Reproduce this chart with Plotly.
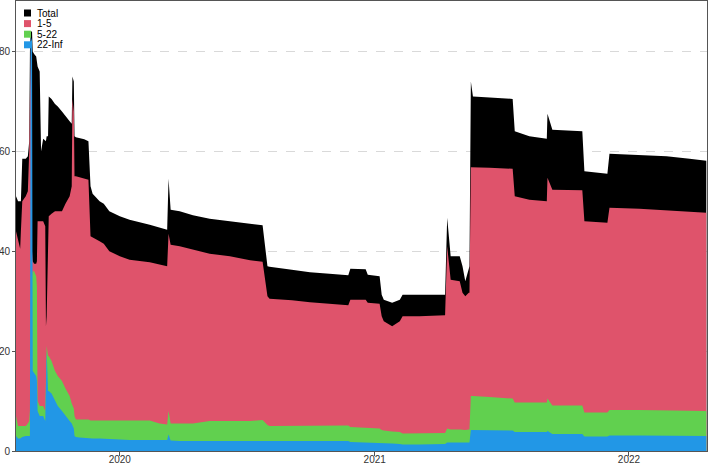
import plotly.graph_objects as go

dates = [
    "2019-08-05", "2019-08-08", "2019-08-11", "2019-08-12", "2019-08-14", "2019-08-19", "2019-08-22", "2019-08-24",
    "2019-08-25", "2019-08-26", "2019-08-28", "2019-08-29", "2019-08-31", "2019-09-03", "2019-09-04", "2019-09-05",
    "2019-09-08", "2019-09-10", "2019-09-13", "2019-09-16", "2019-09-17", "2019-09-18", "2019-09-20", "2019-09-21",
    "2019-09-25", "2019-09-30", "2019-10-04", "2019-10-10", "2019-10-15", "2019-10-21", "2019-10-24", "2019-10-25",
    "2019-10-27", "2019-10-28", "2019-10-30", "2019-11-04", "2019-11-11", "2019-11-17", "2019-11-20", "2019-11-23",
    "2019-12-03", "2019-12-09", "2019-12-17",
    "2020-01-01", "2020-01-15", "2020-02-13", "2020-02-27", "2020-03-09", "2020-03-11", "2020-03-14", "2020-03-27",
    "2020-04-15", "2020-05-09", "2020-06-07", "2020-07-06", "2020-07-24", "2020-07-31", "2020-08-03", "2020-09-04",
    "2020-09-30", "2020-10-28", "2020-11-24", "2020-11-27", "2020-12-19", "2020-12-22",
    "2021-01-08", "2021-01-11", "2021-01-14", "2021-01-26", "2021-02-06", "2021-02-10", "2021-03-06", "2021-04-12",
    "2021-04-15", "2021-04-20", "2021-05-03", "2021-05-07", "2021-05-11", "2021-05-16", "2021-05-17", "2021-05-19",
    "2021-05-22", "2021-06-15", "2021-07-18", "2021-07-21", "2021-08-11", "2021-09-05", "2021-09-06", "2021-09-13",
    "2021-10-26", "2021-10-29", "2021-12-01", "2021-12-04",
    "2022-01-16", "2022-02-24", "2022-03-29", "2022-04-22",
]

total = [
    51, 50, 50, 50, 58.5, 58.5, 59, 62, 80, 84, 84, 80, 79.5, 79, 78, 77,
    76, 60, 62.5, 62, 62, 63, 63, 71, 70.5, 69.5, 69, 68, 67, 66, 65.5, 75,
    74, 63, 62.8, 62.6, 62.4, 62, 53, 51.5, 50, 49.5, 48,
    47, 46.3, 45.3, 44.8, 44.3, 54.5, 48.3, 48, 47.2, 46.5, 46, 45.4, 45.2, 37, 36.9, 36.3,
    35.8, 35.5, 35.2, 36.5, 36.4, 35.3,
    35, 31.3, 30.3, 29.7, 30.3, 31.3, 31.3, 31.3, 46.7, 39, 39, 37, 34, 37, 37, 74,
    71, 70.8, 70.5, 64, 63, 62.5, 67.5, 64.3, 64, 56, 55.5, 59.5,
    59.3, 59, 58.5, 58.1,
]

s1_5 = [
    44, 42, 40.5, 44, 50, 51, 52, 60, 80, 82, 40, 38, 37.5, 37.5, 38, 46,
    46, 46, 46, 45, 25, 27, 45, 47, 47.5, 48, 48, 48, 49.5, 51, 53, 70.5,
    68, 55, 55, 54.8, 54.5, 54.3, 43, 42.8, 42, 41.5, 40,
    39, 38.3, 37.8, 37.3, 37, 43.5, 41.3, 41, 40.3, 39.5, 39, 38.2, 37.9, 31, 30.5, 30.2,
    29.8, 29.5, 29.2, 30.3, 30.3, 29.7,
    29.5, 27, 26, 25, 26, 27, 27, 27.2, 41, 34.3, 34, 31.7, 31, 31.7, 31.7, 56.8,
    56.8, 56.7, 56.5, 51, 50.3, 50, 54.7, 52.3, 52.2, 46, 45.7, 48.7,
    48.5, 48.2, 47.9, 47.7,
]

s5_22 = [
    7, 5, 5, 5, 5, 5, 5.5, 6, 8, 30, 35, 36, 36, 35, 33, 10,
    9, 9, 9, 8, 20, 21, 19, 19, 18, 16, 15, 14, 12.5, 11, 9.5, 9,
    8.5, 7, 6.3, 6.3, 6.3, 6.3, 6.1, 6.1, 6.2, 6.2, 6.2,
    6.2, 6.2, 6.1, 5.5, 5.3, 8, 5.5, 5.5, 5.5, 6, 6, 6, 6.2, 5.2, 5, 5,
    5.1, 5.1, 5.1, 4.8, 4.7, 4.7,
    4.5, 4.2, 4.1, 3.9, 3.8, 3.5, 3.5, 3.6, 4.5, 4.3, 4.3, 4.2, 4.2, 4.3, 4.3, 11,
    11, 10.8, 10.5, 9.7, 9.7, 9.7, 10.5, 9.1, 9.1, 7.7, 7.7, 8.2,
    8.2, 8.1, 8.0, 8.0,
]

s22_inf = [
    3, 2.5, 2.5, 2.6, 2.8, 3, 3, 3, 3, 83, 82, 16, 15.5, 15, 14, 8,
    7, 7, 7, 6, 20, 20, 12, 12, 11.5, 10, 9, 8, 7, 6, 5.5, 5,
    4.5, 3, 2.8, 2.7, 2.6, 2.6, 2.6, 2.5, 2.5, 2.5, 2.4,
    2.3, 2.2, 2.2, 2.2, 2.2, 3.3, 2.1, 2.0, 2.0, 2.0, 2.0, 2.0, 2.0, 2.0, 2.0, 2.0,
    2.0, 2.0, 2.0, 1.8, 1.7, 1.7,
    1.7, 1.7, 1.6, 1.5, 1.4, 1.3, 1.3, 1.4, 1.7, 1.7, 1.7, 1.7, 1.7, 1.7, 1.7, 4.2,
    4.2, 4.1, 4.1, 3.8, 3.8, 3.8, 4.0, 3.4, 3.4, 2.9, 2.9, 3.1,
    3.1, 3.0, 3.0, 3.0,
]

series_names = ["Total", "1-5", "5-22", "22-Inf"]
series_values = [total, s1_5, s5_22, s22_inf]
series_colors = ["#000000", "#DF536B", "#61D04F", "#2297E6"]

year_ticks = ["2020-01-01", "2021-01-01", "2022-01-01"]
year_labels = ["2020", "2021", "2022"]
y_ticks = [0, 20, 40, 60, 80]

fig = go.Figure()
for name, vals, col in zip(series_names, series_values, series_colors):
    fig.add_trace(go.Scatter(
        x=dates, y=vals, name=name, mode="lines",
        line=dict(width=0, color=col), fill="tozeroy", fillcolor=col,
        showlegend=False, hoverinfo="x+y+name",
    ))

# compact legend (top-left, inside plot)
shapes = []
annotations = []
for i, (name, col) in enumerate(zip(series_names, series_colors)):
    yc = -12 - 10.6 * i  # pixel offset from top of plot area
    shapes.append(dict(
        type="rect", xref="paper", yref="paper", xsizemode="pixel", ysizemode="pixel",
        xanchor=0, yanchor=1, x0=8, x1=15, y0=yc - 3.5, y1=yc + 3.5,
        fillcolor=col, line=dict(width=0),
    ))
    annotations.append(dict(
        xref="paper", yref="paper", x=0, y=1, xanchor="left", yanchor="middle",
        xshift=19, yshift=yc, text=name, showarrow=False,
        font=dict(family="Liberation Sans, Arial, sans-serif", size=10, color="#000000"),
    ))

fig.update_layout(
    width=708, height=465,
    margin=dict(l=16, r=1, t=1, b=14),
    paper_bgcolor="white", plot_bgcolor="white",
    font=dict(family="Liberation Sans, Arial, sans-serif", size=10, color="#333333"),
    showlegend=False,
    shapes=shapes, annotations=annotations,
    xaxis=dict(
        type="date", range=["2019-08-05", "2022-04-23"],
        tickvals=year_ticks, ticktext=year_labels,
        showgrid=False, zeroline=False,
        showline=True, mirror=True, linecolor="#555555", linewidth=1,
        ticks="outside", ticklen=4, tickcolor="#555555", automargin=False,
        ticklabelstandoff=-5,
        tickfont=dict(size=10, color="#333333"),
    ),
    yaxis=dict(
        range=[0, 90.1], tickvals=y_ticks,
        showgrid=True, gridcolor="#d9d9d9", griddash="dash", gridwidth=1,
        zeroline=False,
        showline=True, mirror=True, linecolor="#555555", linewidth=1,
        ticks="outside", ticklen=3, tickcolor="#555555", automargin=False,
        tickfont=dict(size=10, color="#333333"),
    ),
)

fig.write_html(
    "out.html",
    config={"displayModeBar": False},
    post_script="document.body.style.margin='0';document.body.style.padding='0';",
)
